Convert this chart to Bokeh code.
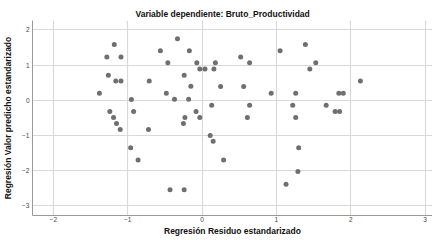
from bokeh.plotting import figure
from bokeh.models import FixedTicker, Range1d
from bokeh.embed import file_html
from bokeh.resources import INLINE

# Regresión Residuo estandarizado (x) / Regresión Valor predicho estandarizado (y)
residuo = [-1.38, -1.28, -1.26, -1.24, -1.19, -1.18, -1.16, -1.15, -1.10, -1.09,
           -1.09, -0.96, -0.95, -0.92, -0.86, -0.72, -0.71, -0.56, -0.48, -0.46,
           -0.43, -0.37, -0.33, -0.25, -0.24, -0.24, -0.23, -0.18, -0.17, -0.15,
           -0.08, -0.07, -0.03, -0.03, 0.04, 0.11, 0.13, 0.15, 0.16, 0.18,
           0.25, 0.29, 0.52, 0.56, 0.61, 0.64, 0.64, 0.93, 1.05, 1.13,
           1.22, 1.26, 1.26, 1.29, 1.30, 1.39, 1.45, 1.53, 1.67, 1.79,
           1.84, 1.85, 1.90, 2.13]
predicho = [0.20, 1.23, 0.71, -0.32, -0.49, 1.59, 0.55, -0.66, -0.83, 1.23,
            0.55, -1.35, 0.02, -0.32, -1.70, -0.83, 0.55, 1.41, 0.20, 1.07,
            -2.55, 0.03, 1.75, -0.66, 0.71, -2.55, -0.49, 0.03, 1.41, 0.40,
            -0.32, 1.07, -0.49, 0.89, 0.89, -1.00, -0.14, -1.17, 0.89, 1.07,
            0.39, -1.70, 1.23, 0.39, -0.49, 1.07, -0.14, 0.20, 1.41, -2.39,
            -0.14, 0.20, -0.49, -2.03, -1.35, 1.59, 0.89, 1.07, -0.14, -0.32,
            0.20, -0.32, 0.20, 0.55]
x_ticks = [-2, -1, 0, 1, 2, 3]
y_ticks = [-3, -2, -1, 0, 1, 2]

p = figure(width=432, height=238, output_backend="svg", toolbar_location=None,
           x_range=Range1d(-2.28, 3.10), y_range=Range1d(-3.28, 2.27),
           title="Variable dependiente: Bruto_Productividad",
           min_border_left=32, min_border_right=0, min_border_top=20,
           min_border_bottom=0)
p.outline_line_color = None
p.background_fill_color = "white"
p.border_fill_color = "white"

p.title.text_font = "Liberation Sans"
p.title.text_font_style = "bold"
p.title.text_font_size = "8.5px"
p.title.text_color = "#111111"
p.title.align = "left"
p.title.offset = 103
p.title.standoff = 3

p.scatter(residuo, predicho, size=5, color="#6f6f6f", line_color=None)

for ax in (p.xaxis[0], p.yaxis[0]):
    ax.major_tick_in = 0
    ax.major_tick_out = 0
    ax.minor_tick_in = 0
    ax.minor_tick_out = 0
    ax.axis_line_color = "#9a9a9a"
    ax.axis_line_width = 1
    ax.major_label_text_font = "Liberation Sans"
    ax.major_label_text_font_size = "6.5px"
    ax.major_label_text_color = "#444444"
    ax.axis_label_text_font = "Liberation Sans"
    ax.axis_label_text_font_style = "bold"
    ax.axis_label_text_font_size = "8.5px"
    ax.axis_label_text_color = "#111111"

p.xaxis.ticker = FixedTicker(ticks=x_ticks)
p.yaxis.ticker = FixedTicker(ticks=y_ticks)
p.xaxis.axis_label = "Regresión Residuo estandarizado"
p.yaxis.axis_label = "Regresión Valor predicho estandarizado"
p.xaxis.major_label_standoff = 1
p.xaxis.axis_label_standoff = 1
p.yaxis.major_label_standoff = 3
p.yaxis.axis_label_standoff = 6

p.xgrid.ticker = FixedTicker(ticks=x_ticks)
p.ygrid.ticker = FixedTicker(ticks=y_ticks)
p.grid.grid_line_color = "#d9d9d9"
p.grid.grid_line_width = 1.2

open("out.html", "w").write(file_html(p, INLINE))
